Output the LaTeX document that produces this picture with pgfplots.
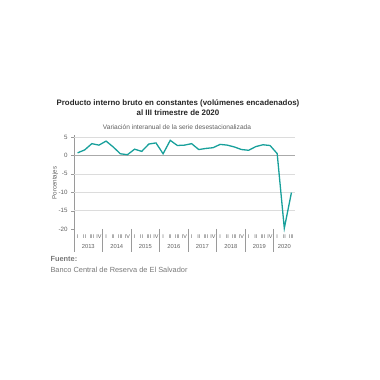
\documentclass[border=0pt]{standalone}
\usepackage{pgfplots}
\pgfplotsset{compat=1.18}
\usepackage{fontspec}
\setmainfont{Liberation Sans}
\definecolor{teal1}{RGB}{24,160,155}
\definecolor{txtgrey}{RGB}{95,95,95}
\definecolor{srcgrey}{RGB}{120,120,120}
\definecolor{gridgrey}{RGB}{220,220,220}
\definecolor{zerogrey}{RGB}{170,170,170}
\begin{document}
\begin{tikzpicture}[x=1pt,y=1pt]
\path[use as bounding box] (0,0) rectangle (380,380);
\node[font=\fontsize{7.9}{9.8}\selectfont\bfseries, align=center, text=black!85] at (178,272) {Producto interno bruto en constantes (volúmenes encadenados)\\al III trimestre de 2020};
\node[font=\fontsize{6.6}{7}\selectfont, text=txtgrey] at (177,253) {Variación interanual de la serie desestacionalizada};
\node[font=\fontsize{6.2}{7}\selectfont, text=txtgrey, rotate=90] at (55,197) {Porcentajes};
\node[font=\fontsize{7.4}{8}\selectfont\bfseries, text=srcgrey, anchor=west] at (47,121) {Fuente:};
\node[font=\fontsize{7.4}{8}\selectfont, text=srcgrey, anchor=west] at (47,110) {Banco Central de Reserva de El Salvador};
\begin{axis}[
  at={(74pt,151pt)}, anchor=south west,
  scale only axis, width=221pt, height=93.8pt,
  xmin=-0.5, xmax=30.5, ymin=-20, ymax=5.5,
  clip=false,
  axis x line=none,
  axis y line*=left,
  y axis line style={draw=gridgrey!70!black, line width=0.5pt, -},
  ytick={-20,-15,...,5},
  ytick style={draw=gridgrey!70!black},
  tick align=outside,
  major tick length=3pt,
  yticklabel style={font=\fontsize{6.2}{7}\selectfont, text=txtgrey},
  /pgf/number format/assume math mode=true,
]
\foreach \v in {5,-5,-10,-15} {
  \edef\tmp{\noexpand\draw[gridgrey, line width=0.5pt] (axis cs:-0.5,\v) -- (axis cs:30.5,\v);}
  \tmp
}
\draw[zerogrey, line width=0.6pt] (axis cs:-0.5,0) -- (axis cs:30.5,0);
\foreach \k in {0,...,7} {
  \pgfmathsetmacro{\xs}{-0.5+4*\k}
  \edef\tmp{\noexpand\draw[gridgrey!70!black, line width=0.5pt] (axis cs:\xs,-20) -- ([yshift=-23pt]axis cs:\xs,-20);}
  \tmp
}
\foreach \k/\yr in {0/2013,1/2014,2/2015,3/2016,4/2017,5/2018,6/2019} {
  \pgfmathsetmacro{\xc}{1.5+4*\k}
  \edef\tmp{\noexpand\node[font=\noexpand\fontsize{5.8}{6}\noexpand\selectfont, text=txtgrey] at (axis cs:\xc,-20) [yshift=-18pt] {\yr};}
  \tmp
}
\node[font=\fontsize{5.8}{6}\selectfont, text=txtgrey] at (axis cs:29,-20) [yshift=-18pt] {2020};
\foreach \k in {0,...,6} {
  \foreach \q/\lab in {0/I,1/II,2/III,3/IV} {
    \pgfmathsetmacro{\xq}{4*\k+\q}
    \edef\tmp{\noexpand\node[font=\noexpand\fontsize{5.4}{5.5}\noexpand\selectfont, text=txtgrey] at (axis cs:\xq,-20) [yshift=-8pt] {\lab};}
    \tmp
  }
}
\foreach \q/\lab in {0/I,1/II,2/III} {
  \pgfmathsetmacro{\xq}{28+\q}
  \edef\tmp{\noexpand\node[font=\noexpand\fontsize{5.4}{5.5}\noexpand\selectfont, text=txtgrey] at (axis cs:\xq,-20) [yshift=-8pt] {\lab};}
  \tmp
}
\addplot[teal1, line width=1.3pt, mark=none] coordinates {
(0,0.7) (1,1.5) (2,3.2) (3,2.8)
(4,3.9) (5,2.3) (6,0.45) (7,0.2)
(8,1.7) (9,1.1) (10,3.1) (11,3.4)
(12,0.45) (13,4.1) (14,2.7) (15,2.8)
(16,3.2) (17,1.6) (18,1.9) (19,2.1)
(20,3.0) (21,2.8) (22,2.3) (23,1.6)
(24,1.4) (25,2.4) (26,2.9) (27,2.7)
(28,0.5) (29,-19.8) (30,-10.1)
};
\end{axis}
\end{tikzpicture}
\end{document}
